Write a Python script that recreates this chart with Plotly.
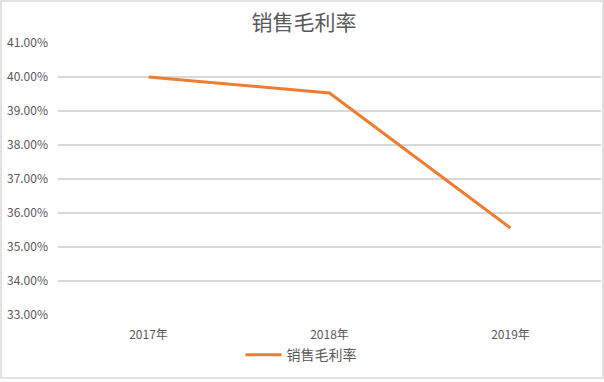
import plotly.graph_objects as go

years = ["2017年", "2018年", "2019年"]
margin_rate = [0.4000, 0.3953, 0.3556]
series_name = "销售毛利率"
title_text = "销售毛利率"

font_family = "Noto Sans CJK SC, Microsoft YaHei, sans-serif"
grey = "#595959"

fig = go.Figure()
fig.add_trace(go.Scatter(
    x=years, y=margin_rate, mode="lines", name=series_name,
    line=dict(color="#ED7D31", width=3),
))

fig.update_layout(
    width=604, height=382,
    margin=dict(l=58, r=3, t=43, b=67),
    paper_bgcolor="white", plot_bgcolor="white",
    title=dict(text=title_text, x=(304 - 58) / 543, xref="paper", xanchor="center",
               y=1 - 23 / 382, yanchor="middle",
               font=dict(family=font_family, size=21, color=grey)),
    font=dict(family=font_family, size=12, color=grey),
    showlegend=True,
    legend=dict(orientation="h", x=(301 - 58) / 543, xanchor="center", y=-0.148, yanchor="middle",
                itemwidth=36, bgcolor="rgba(0,0,0,0)",
                font=dict(family=font_family, size=14, color=grey)),
    xaxis=dict(type="category", range=[-0.5, 2.5], showgrid=False, showline=False,
               ticks="", ticklabelstandoff=11, tickfont=dict(size=12, color=grey)),
    yaxis=dict(range=[0.33, 0.41], dtick=0.01, tickformat=".2%", showgrid=True,
               gridcolor="#d9d9d9", gridwidth=2, zeroline=False, showline=False,
               ticks="", ticklabelstandoff=9, tickfont=dict(size=12, color=grey)),
    shapes=[dict(type="rect", xref="paper", yref="paper",
                 x0=(1 - 58) / 543, x1=(603 - 58) / 543,
                 y0=(315 - 378) / 272, y1=(315 - 1) / 272,
                 line=dict(color="#d9d9d9", width=1.5), layer="below")],
)

fig.write_html("out.html", config={"displayModeBar": False},
               post_script="document.body.style.margin='0';document.body.style.overflow='hidden';")
